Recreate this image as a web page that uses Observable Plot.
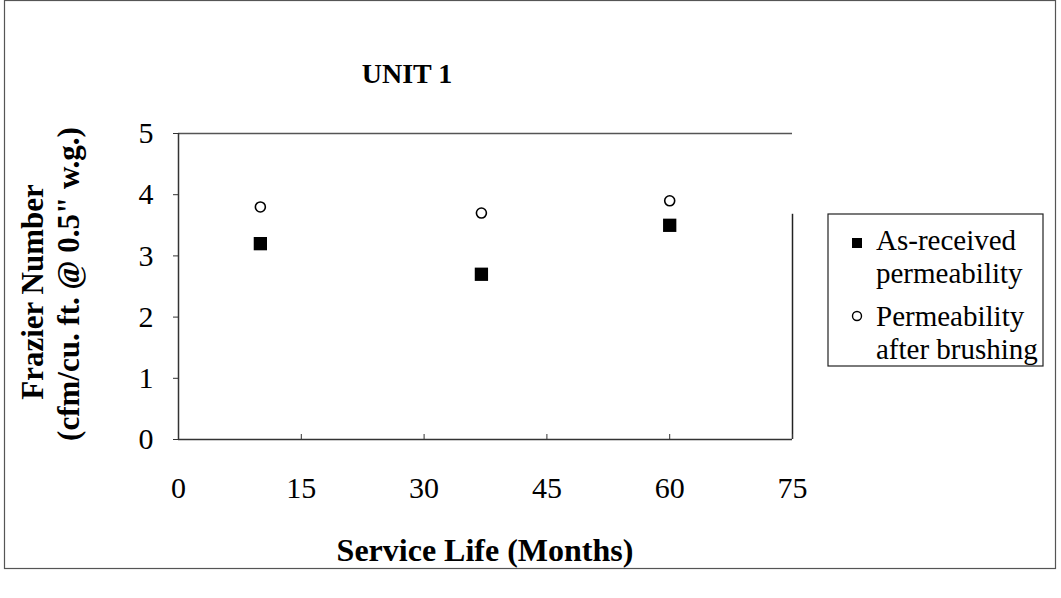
<!DOCTYPE html>
<html>
<head>
<meta charset="utf-8">
<script src="https://cdn.jsdelivr.net/npm/d3@7"></script>
<script src="https://cdn.jsdelivr.net/npm/@observablehq/plot@0.6"></script>
<style>
  html, body { margin: 0; padding: 0; background: #fff; }
  #chart { position: relative; width: 1061px; height: 598px; }
  #chart svg text { font-family: 'Liberation Serif', 'Times New Roman', serif; }
</style>
</head>
<body>
<div id="chart"></div>
<script>
// ---- data ----
const months = [10, 37, 60];
const asReceived = [3.2, 2.7, 3.5];
const afterBrushing = [3.8, 3.7, 3.9];
const xTicks = [0, 15, 30, 45, 60, 75];
const yTicks = [0, 1, 2, 3, 4, 5];
const seriesNames = ["As-received permeability", "Permeability after brushing"];
const legendLines = [["As-received", "permeability"], ["Permeability", "after brushing"]];
const titleText = "UNIT 1";
const xLabel = "Service Life (Months)";
const yLabelLines = ["Frazier Number", "(cfm/cu. ft. @ 0.5\" w.g.)"];

const sq = months.map((m, i) => ({month: m, value: asReceived[i]}));
const ci = months.map((m, i) => ({month: m, value: afterBrushing[i]}));

const font = "'Liberation Serif', 'Times New Roman', serif";
const W = 1061, H = 598;
const mL = 178, mR = W - 792, mT = 133, mB = H - 439;

const plot = Plot.plot({
  width: W, height: H,
  marginLeft: mL, marginRight: mR, marginTop: mT, marginBottom: mB,
  style: {fontFamily: font, fontSize: "30px", color: "#000", background: "transparent"},
  x: {domain: [0, 75], ticks: xTicks, label: null},
  y: {domain: [0, 5], ticks: yTicks, label: null},
  marks: [
    // frame lines
    Plot.ruleY([5], {stroke: "#555", strokeWidth: 1.5}),
    Plot.ruleX([75], {y1: 0, y2: 3.68, stroke: "#222", strokeWidth: 1.5}),
    Plot.ruleY([0], {stroke: "#333", strokeWidth: 1.5}),
    Plot.ruleX([0], {stroke: "#333", strokeWidth: 1.5}),
    Plot.axisX({ticks: xTicks, tickSize: -5, text: null, stroke: "#333", label: null}),
    Plot.axisX({ticks: xTicks, tickSize: 0, tickPadding: 37, label: null, fill: "#000", fontSize: 30, tickFormat: d3.format("d")}),
    Plot.axisY({ticks: yTicks, tickSize: 5, tickPadding: 20, label: null, fill: "#000", stroke: "#333", fontSize: 30, tickFormat: d3.format("d")}),
    Plot.dot(sq, {x: "month", y: "value", symbol: "square", r: 7.5, fill: "#000", stroke: "none"}),
    Plot.dot(ci, {x: "month", y: "value", symbol: "circle", r: 5, fill: "#fff", stroke: "#000", strokeWidth: 1.6})
  ]
});

document.getElementById("chart").appendChild(plot);

const svg = d3.select(plot);

// outer border
svg.insert("rect", ":first-child")
  .attr("x", 4.5).attr("y", 0.5).attr("width", 1051).attr("height", 568)
  .attr("fill", "#fff").attr("stroke", "#555").attr("stroke-width", 1.2);

// title
svg.append("text").attr("x", 407).attr("y", 83)
  .attr("text-anchor", "middle")
  .attr("font-size", 28).attr("font-weight", "bold").text(titleText);

// x label
svg.append("text").attr("x", 485).attr("y", 561)
  .attr("text-anchor", "middle")
  .attr("font-size", 32).attr("font-weight", "bold").text(xLabel);

// y label
yLabelLines.forEach((t, i) => {
  svg.append("text")
    .attr("transform", `translate(${i === 0 ? 43 : 79},${i === 0 ? 292 : 284}) rotate(-90)`)
    .attr("text-anchor", "middle")
    .attr("font-size", 31).attr("font-weight", "bold").text(t);
});

// legend
const lg = svg.append("g").attr("font-size", 29).attr("text-anchor", "start");
lg.append("rect").attr("x", 828).attr("y", 214).attr("width", 215).attr("height", 152)
  .attr("fill", "#fff").attr("stroke", "#222").attr("stroke-width", 1.2);
lg.append("rect").attr("x", 852).attr("y", 238).attr("width", 10).attr("height", 10).attr("fill", "#000");
lg.append("circle").attr("cx", 857).attr("cy", 316).attr("r", 4.5)
  .attr("fill", "#fff").attr("stroke", "#000").attr("stroke-width", 1.4);
legendLines.forEach((lines, i) => {
  lines.forEach((t, j) => {
    lg.append("text").attr("x", 876).attr("y", 250 + i * 76 + j * 33).text(t);
  });
});
</script>
</body>
</html>
